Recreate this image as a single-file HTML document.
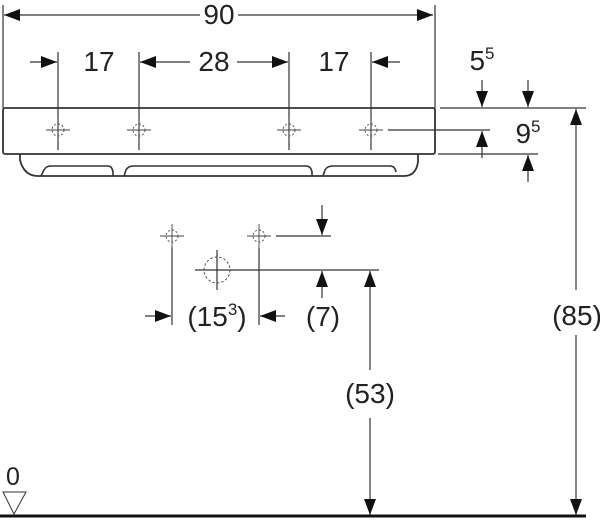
<!DOCTYPE html>
<html><head><style>body{margin:0;background:#fff}svg{display:block}</style></head><body>
<svg width="600" height="520" viewBox="0 0 600 520" xmlns="http://www.w3.org/2000/svg" font-family="Liberation Sans, sans-serif" fill="#222">
<defs>
<marker id="a" viewBox="0 0 16 12" refX="16" refY="6" markerWidth="16" markerHeight="12" markerUnits="userSpaceOnUse" orient="auto"><path d="M0,0L16,6L0,12z" fill="#111"/></marker>
<g id="ch" stroke="#444" stroke-width="0.9" fill="none"><path d="M-12,0H12M0,-12V12"/><circle r="6" stroke-dasharray="2,2"/></g>
</defs>
<g stroke="#333" stroke-width="1.2" fill="none">
<path d="M3,5V108M435,5V108"/>
<path d="M200,15H4" marker-end="url(#a)"/><path d="M238,15H433" marker-end="url(#a)"/>
<path d="M58,52V150M139,52V150M289,52V150M371,52V150"/>
<path d="M30,62H57" marker-end="url(#a)"/><path d="M190,62H140" marker-end="url(#a)"/><path d="M237,62H288" marker-end="url(#a)"/><path d="M400,62H372" marker-end="url(#a)"/>
<rect x="3" y="108" width="432" height="46" rx="2" stroke-width="1.8"/>
<path d="M20,154V160Q24,176 38,176H404Q416,176 418,162V154" stroke-width="1.8"/>
<path d="M41,176L44,170Q46,166 51,166H108Q112,166 113,172V176M124,176L126,170Q128,166 134,166H306Q311,166 312,172V176M323,176L325,170Q327,166 333,166H390Q395,166 396,172" stroke-width="1.6"/>
<path d="M440,108H586M388,130H490M438,154H538"/>
<path d="M482,80V107" marker-end="url(#a)"/><path d="M528,80V107" marker-end="url(#a)"/>
<path d="M482,158V131" marker-end="url(#a)"/><path d="M528,182V155" marker-end="url(#a)"/>
<path d="M576,290V109" marker-end="url(#a)"/><path d="M576,335V515" marker-end="url(#a)"/>
<path d="M276,236H331M195,270H379"/>
<path d="M322,205V235" marker-end="url(#a)"/><path d="M322,298V271" marker-end="url(#a)"/>
<path d="M370,370V271" marker-end="url(#a)"/><path d="M370,418V515" marker-end="url(#a)"/>
<path d="M172,247V325M259,248V325M217,250V290"/>
<path d="M145,316H171" marker-end="url(#a)"/><path d="M285,316H260" marker-end="url(#a)"/>
<path d="M3,492H26L14,514Z" stroke-width="1"/>
</g>
<line x1="0" y1="516" x2="586" y2="516" stroke="#111" stroke-width="3"/>
<use href="#ch" x="58" y="130"/><use href="#ch" x="139" y="130"/><use href="#ch" x="289" y="130"/><use href="#ch" x="371" y="130"/>
<use href="#ch" x="172" y="236"/><use href="#ch" x="259" y="236"/>
<g stroke="#444" stroke-width="0.9" fill="none"><circle cx="217" cy="270" r="13" stroke-dasharray="2.5,2"/></g>
<g font-size="28" text-anchor="middle">
<text x="219" y="24">90</text>
<text x="99" y="71">17</text><text x="214" y="71">28</text><text x="334" y="71">17</text>
<text x="482" y="70">5<tspan font-size="17" dy="-11">5</tspan></text>
<text x="528" y="143">9<tspan font-size="17" dy="-11">5</tspan></text>
<text x="577" y="325">(85)</text>
<text x="370" y="403">(53)</text>
<text x="323" y="326">(7)</text>
<text x="217" y="326">(15<tspan font-size="17" dy="-11">3</tspan><tspan dy="11">)</tspan></text>
<text x="13" y="485" font-size="25">0</text>
</g>
</svg>
</body></html>
